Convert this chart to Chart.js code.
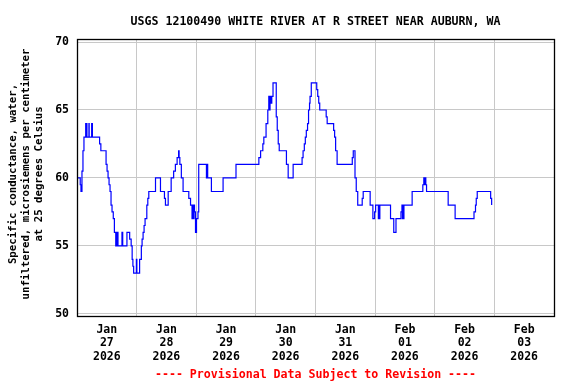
<!DOCTYPE html>
<html><head><meta charset="utf-8">
<script src="https://cdn.jsdelivr.net/npm/chart.js@4.4.1/dist/chart.umd.min.js"></script>
<style>html,body{margin:0;padding:0;background:#fff}</style>
</head><body>
<canvas id="c" width="576" height="384"></canvas>
<script>
// hours since 2026-01-27 00:00 at which the value changes (step changes)
const hours = [0,0.1,1.3,1.6,2.0,2.4,2.8,3.5,3.6,3.7,3.8,3.9,4.0,4.8,4.9,5.9,6.2,9.1,9.6,11.7,12.1,12.5,12.9,13.3,13.7,14.1,14.6,15.05,15.6,15.8,16.0,16.2,16.5,18.1,18.4,20.1,21.2,21.8,22.2,22.5,22.8,23.9,24.1,25.2,25.9,26.2,26.6,27.0,27.4,28.1,28.5,28.9,31.6,33.6,35.2,35.6,36.7,37.9,38.9,39.6,40.3,40.9,41.1,41.4,42.0,42.7,45.0,45.7,46.3,46.6,46.9,47.1,47.3,47.7,48.1,48.7,49.0,52.1,52.3,52.4,52.5,52.6,54.1,58.8,64.0,73.2,73.9,74.8,75.2,76.1,76.8,77.2,77.5,77.7,78.0,78.4,78.9,80.2,80.6,81.0,81.4,84.3,85.0,87.0,90.6,91.0,91.5,91.9,92.3,92.8,93.2,93.6,93.8,94.3,96.5,96.9,97.3,97.7,100.3,100.7,103.3,103.7,104.1,104.7,110.8,111.2,111.9,112.4,113.0,114.8,115.2,118.0,119.1,119.8,120.2,121.3,121.5,121.7,121.9,126.2,127.5,128.4,130.4,130.8,131.0,131.2,131.4,131.6,134.9,139.2,139.6,139.9,140.1,140.4,140.7,149.4,152.2,159.8,160.4,160.7,161.1,166.5,166.9];
// specific conductance (µS/cm at 25 °C)
const conductance = [61,60,59.5,59,60.5,62,63,64,63,64,63,64,63,64,63,64,63,62.5,62,61,60.5,60,59.5,59,58,57.5,57,56,55,56,55,56,55,56,55,56,55.5,55,54,53.5,53,54,53,54,55,55.5,56,56.5,57,58,58.5,59,60,59,58.5,58,59,60,60.5,61,61.5,62,61.5,61,60,59,58.5,58,57,58,57,58,57.5,56,57,57.5,61,60,61,60,61,60,59,60,61,61.5,62,62.5,63,64,65,66,65,66,65.5,66,67,64.5,63.5,62.5,62,61,60,61,61.5,62,62.5,63,63.5,64,65,65.5,66,67,66.5,66,65.5,65,64.5,64,63.5,63,62,61,61.5,62,60,59,58,58.5,59,58,57,57.5,58,57,58,57,58,57,56,57,57.5,58,57,58,57,58,59,59.5,60,59.5,60,59.5,59,58,57,57.5,58,58.5,59,58.5,58];

const dayGridHours = [0,24,48,72,96,120,144,168,192];
const labelHours = [12,36,60,84,108,132,156,180];
const tickMonths = ['Jan','Jan','Jan','Jan','Jan','Feb','Feb','Feb'];
const tickDays = ['27','28','29','30','31','01','02','03'];
const tickYears = ['2026','2026','2026','2026','2026','2026','2026','2026'];
const yTickValues = [50,55,60,65,70];

const chartTitle = 'USGS 12100490 WHITE RIVER AT R STREET NEAR AUBURN, WA';
const yTitleLines = ['Specific conductance, water,','unfiltered, microsiemens per centimeter','at 25 degrees Celsius'];
const footerText = '---- Provisional Data Subject to Revision ----';

const FONT = "'DejaVu Sans Mono', 'Liberation Mono', monospace";

const decor = {
  id: 'decor',
  afterDraw(chart) {
    const ctx = chart.ctx, a = chart.chartArea;
    ctx.save();
    ctx.strokeStyle = '#000';
    ctx.lineWidth = 1.3;
    ctx.strokeRect(Math.round(a.left) + 0.5, Math.round(a.top) - 0.5, Math.round(a.right - a.left), Math.round(a.bottom - a.top) + 1);
    ctx.fillStyle = '#000';
    ctx.textAlign = 'center';
    ctx.textBaseline = 'middle';
    ctx.font = 'bold 11.6px ' + FONT;
    ctx.fillText(chartTitle, (a.left + a.right) / 2, 22);
    ctx.font = 'bold 10.7px ' + FONT;
    const cy = (a.top + a.bottom) / 2 - 4;
    const xs = [13, 26, 39];
    yTitleLines.forEach((t, i) => {
      ctx.save();
      ctx.translate(xs[i], cy);
      ctx.rotate(-Math.PI / 2);
      ctx.fillText(t, 0, 0);
      ctx.restore();
    });
    ctx.fillStyle = '#ff0000';
    ctx.font = 'bold 11.6px ' + FONT;
    ctx.fillText(footerText, (a.left + a.right) / 2, 375);
    ctx.restore();
  }
};

new Chart(document.getElementById('c'), {
  type: 'line',
  data: {
    datasets: [{
      data: hours.map((h, i) => ({ x: h, y: conductance[i] })),
      borderColor: '#0000ff',
      borderWidth: 1.2,
      stepped: true,
      pointRadius: 0,
      fill: false,
      xAxisID: 'x',
      yAxisID: 'y'
    }]
  },
  options: {
    responsive: false,
    animation: false,
    devicePixelRatio: 1,
    layout: { padding: { left: 0, right: 22, top: 40, bottom: 0 } },
    plugins: { legend: { display: false }, tooltip: { enabled: false }, title: { display: false } },
    scales: {
      x: {
        type: 'linear', position: 'bottom', min: 0, max: 192,
        afterBuildTicks: s => { s.ticks = dayGridHours.map(v => ({ value: v })); },
        grid: { color: '#c8c8c8', lineWidth: 1, drawTicks: false },
        border: { display: false },
        ticks: { display: false },
        afterFit: s => { s.height = 0; }
      },
      x2: {
        type: 'linear', position: 'bottom', min: 0, max: 192,
        afterBuildTicks: s => { s.ticks = labelHours.map(v => ({ value: v })); },
        grid: { display: false, drawTicks: false },
        border: { display: false },
        ticks: {
          autoSkip: false, maxRotation: 0, minRotation: 0, padding: 7,
          color: '#000',
          font: { family: FONT, size: 11.5, weight: 'bold', lineHeight: '13.5px' },
          callback: (v, i) => [tickMonths[i], tickDays[i], tickYears[i]]
        },
        afterFit: s => { s.height = 68; }
      },
      y: {
        type: 'linear', position: 'left', min: 49.84, max: 70.15,
        afterBuildTicks: s => { s.ticks = yTickValues.map(v => ({ value: v })); },
        grid: { color: '#c8c8c8', lineWidth: 1, drawTicks: false },
        border: { display: false },
        ticks: { padding: 8, color: '#000', font: { family: FONT, size: 11.5, weight: 'bold' } },
        afterFit: s => { s.width = 77; }
      }
    }
  },
  plugins: [decor]
});
</script>
</body></html>
